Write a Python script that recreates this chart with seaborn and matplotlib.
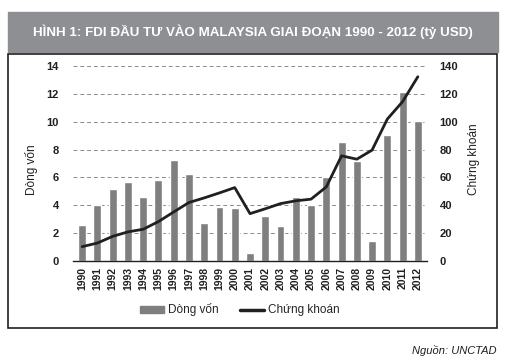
import matplotlib
matplotlib.use('Agg')
import matplotlib.pyplot as plt
import matplotlib.patches as mpatches
import seaborn as sns
import numpy as np
import pandas as pd

years = [str(y) for y in range(1990, 2013)]
dong_von = [2.6, 4.05, 5.15, 5.7, 4.6, 5.8, 7.25, 6.25, 2.7, 3.9, 3.8, 0.6,
            3.25, 2.5, 4.6, 4.05, 6.0, 8.55, 7.15, 1.45, 9.05, 12.15, 10.05]
chung_khoan = [10.3, 12.9, 17.7, 20.9, 22.8, 28.3, 35.2, 42.0, 45.3, 48.9, 52.7, 34.0,
               37.5, 41.2, 43.2, 44.4, 53.2, 75.5, 73.1, 79.6, 101.9, 114.4, 132.3]

BAR_COLOR = '#7f7f7f'
LINE_COLOR = '#231f20'
BANNER = '#8e8f93'
TXT = '#231f20'

sns.set_theme(style='white')
plt.rcParams['font.family'] = ['Liberation Sans Narrow', 'Liberation Sans', 'DejaVu Sans']

df = pd.DataFrame({'year': years, 'dong_von': dong_von, 'chung_khoan': chung_khoan})
df['pos'] = np.arange(len(df))

fig = plt.figure(figsize=(5.08, 3.63), dpi=100)

# title banner and frame
fig.patches.append(mpatches.Rectangle((8 / 508, 1 - 52 / 363), 490 / 508, 40 / 363,
                                      transform=fig.transFigure, color=BANNER, zorder=0))
fig.patches.append(mpatches.Rectangle((8 / 508, 1 - 328 / 363), 489 / 508, 274 / 363,
                                      transform=fig.transFigure, fill=False,
                                      edgecolor=TXT, lw=1.2, zorder=0))
fig.text(253 / 508, 1 - 32 / 363, 'HÌNH 1: FDI ĐẦU TƯ VÀO MALAYSIA GIAI ĐOẠN 1990 - 2012 (tỷ USD)',
         ha='center', va='center', color='white', fontsize=9.6, fontweight='bold')

ax = fig.add_axes([73 / 508, 1 - 261 / 363, 354 / 508, 195 / 363])
sns.barplot(data=df, x='year', y='dong_von', color=BAR_COLOR, width=0.52,
            saturation=1, ax=ax, zorder=2)
ax.set_ylim(0, 14)
ax.set_yticks(range(0, 15, 2))
ax.set_xlim(-0.6, len(df) - 0.4)
for y in range(2, 15, 2):
    ax.axhline(y, color='#8a8a8a', lw=0.7, ls=(0, (4, 3)), zorder=1)
ax.set_xlabel('')
ax.set_ylabel('Dòng vốn', fontsize=8.5, color=TXT)
ax.yaxis.set_label_coords(-0.1, 0.47)
ax.tick_params(axis='x', rotation=90, labelsize=7.5, colors=TXT, length=0, pad=4)
ax.tick_params(axis='y', labelsize=8, colors=TXT, length=0, pad=10)
for lab in ax.get_xticklabels() + ax.get_yticklabels():
    lab.set_fontweight('semibold')
for s in ['left', 'right', 'top']:
    ax.spines[s].set_visible(False)
ax.spines['bottom'].set_color(TXT)
ax.spines['bottom'].set_linewidth(1)

ax2 = ax.twinx()
sns.lineplot(data=df, x='pos', y='chung_khoan', color=LINE_COLOR, lw=2, ax=ax2)
ax2.set_ylim(0, 140)
ax2.set_yticks(range(0, 141, 20))
ax2.set_ylabel('Chứng khoán', fontsize=8.5, color=TXT)
ax2.yaxis.set_label_coords(1.115, 0.52)
ax2.tick_params(axis='y', labelsize=8, colors=TXT, length=0, pad=9)
for lab in ax2.get_yticklabels():
    lab.set_fontweight('semibold')
for s in ['left', 'right', 'top', 'bottom']:
    ax2.spines[s].set_visible(False)

handles = [mpatches.Patch(color=BAR_COLOR),
           plt.Line2D([], [], color=LINE_COLOR, lw=2.5)]
fig.legend(handles, ['Dòng vốn', 'Chứng khoán'], loc='center',
           bbox_to_anchor=(240 / 508, 1 - 310 / 363), ncol=2, frameon=False,
           fontsize=8.5, handlelength=2.0, handleheight=0.6, columnspacing=1.8,
           handletextpad=0.4)

fig.text(497 / 508, 1 - 351 / 363, 'Nguồn: UNCTAD', ha='right', va='center',
         fontsize=8, style='italic', color=TXT)

fig.savefig('out.png', dpi=100)
